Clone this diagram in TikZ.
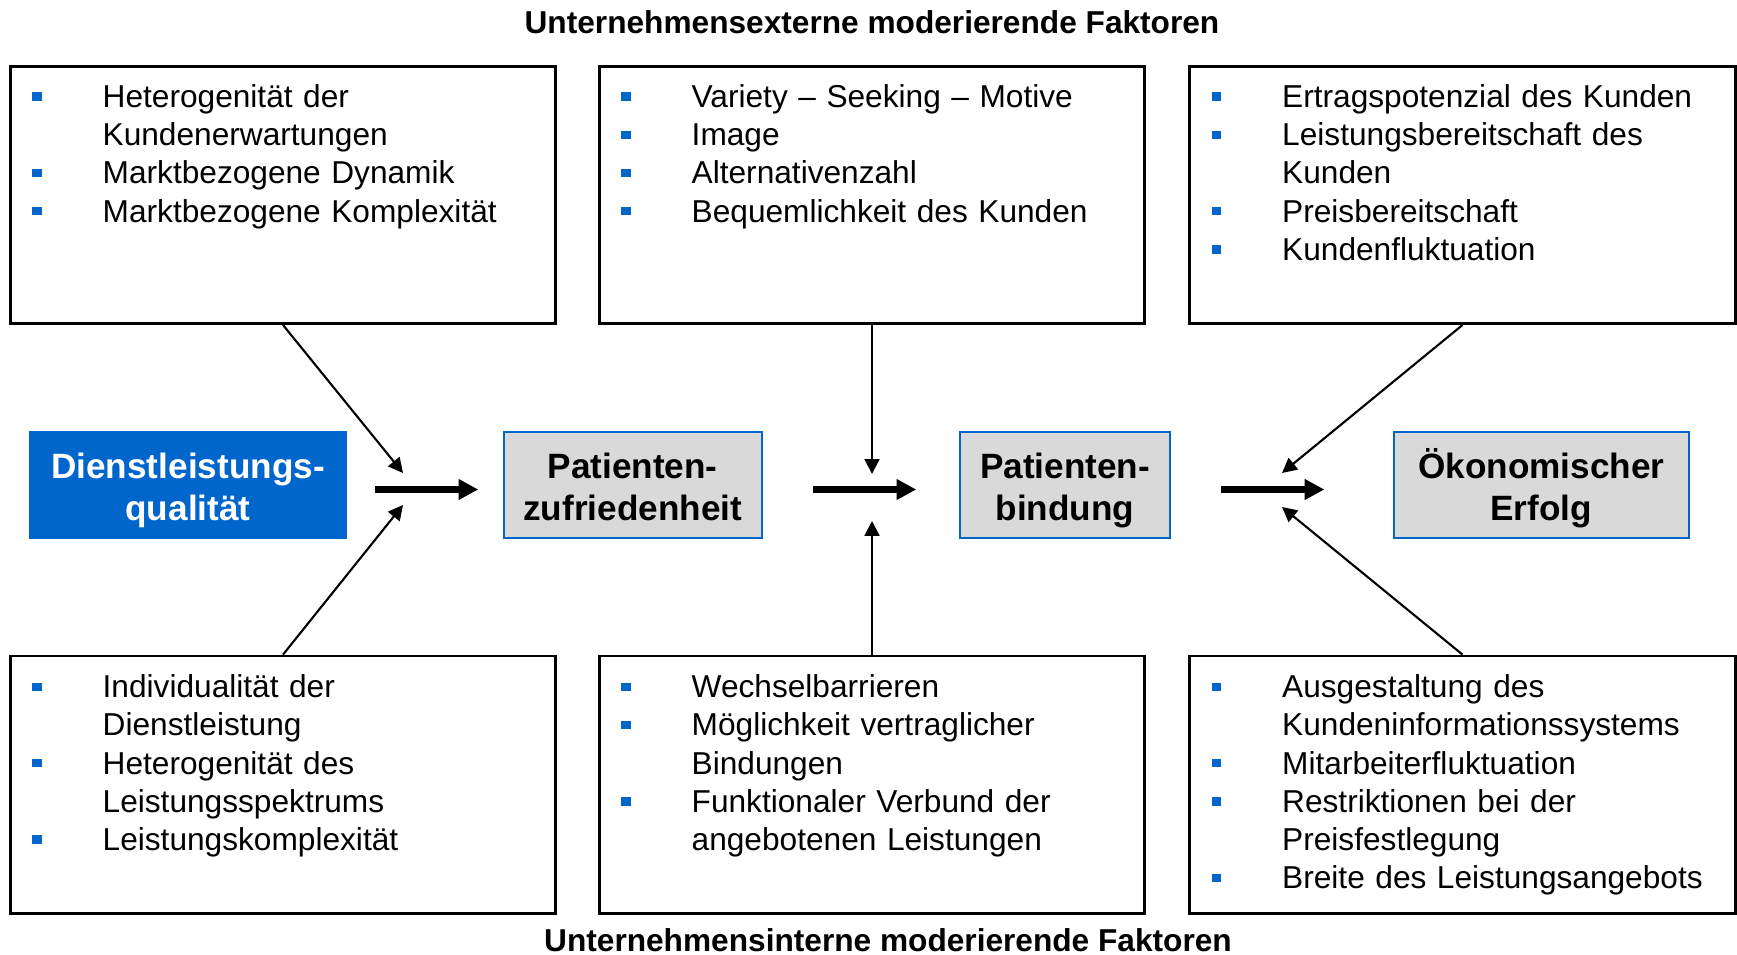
\documentclass[tikz,border=0pt]{standalone}
\usepackage{fontspec}
\setmainfont{Liberation Sans}
\usetikzlibrary{arrows.meta}
\definecolor{kblue}{HTML}{0066CC}
\definecolor{kgrey}{HTML}{D9D9D9}
\newcommand{\bul}{\leavevmode\llap{\textcolor{kblue}{\rule[1.9pt]{2.7pt}{2.4pt}}\hspace{0.61cm}}}
\newcommand{\topstrut}{\rule{0pt}{10.2pt}}
\newcommand{\botstrut}{\rule[-2pt]{0pt}{2pt}}
\tikzset{
  factorbox/.style={draw, line width=0.8pt, minimum width=5.45cm, minimum height=2.57cm, inner sep=0pt},
  factortext/.style={anchor=base west, inner sep=0pt, text width=4.7cm, align=left, font=\fontsize{9}{10.87}\selectfont},
  construct/.style={draw=kblue, fill=kgrey, line width=0.6pt, minimum height=1.054cm, inner sep=0pt, align=center, font=\fontsize{10}{12}\selectfont\bfseries},
  startbox/.style={construct, fill=kblue, text=white},
  headline/.style={anchor=base, inner sep=0pt, font=\fontsize{9}{10.8}\selectfont\bfseries},
  thinarrow/.style={-{Triangle[length=4.2pt,width=4.2pt]}, line width=0.6pt},
  bigarrow/.style={-{Triangle[length=5.6pt,width=5.6pt]}, line width=2.2pt}
}
\begin{document}
\begin{tikzpicture}[x=0.01cm, y=-0.01cm]
\useasboundingbox (0,0) rectangle (1737,955);
% headings
\node[headline] (extern) at (872,33.3) {Unternehmensexterne moderierende Faktoren};
\node[headline] (intern) at (888,951) {Unternehmensinterne moderierende Faktoren};
% factor boxes
\node[factorbox] (ext1) at (283,195) {};
\node[factorbox] (ext2) at (872,195) {};
\node[factorbox] (ext3) at (1462.5,195) {};
\node[factorbox] (int1) at (283,784.6) {};
\node[factorbox] (int2) at (872,784.6) {};
\node[factorbox] (int3) at (1462.5,784.6) {};
\node[factortext] (ext1txt) at ([xshift=0.93cm,yshift=-0.424cm]ext1.north west)
  {\bul Heterogenität der\\Kundenerwartungen\\\bul Marktbezogene Dynamik\\\bul Marktbezogene Komplexität};
\node[factortext] (ext2txt) at ([xshift=0.93cm,yshift=-0.424cm]ext2.north west)
  {\bul Variety – Seeking – Motive\\\bul Image\\\bul Alternativenzahl\\\bul Bequemlichkeit des Kunden};
\node[factortext] (ext3txt) at ([xshift=0.93cm,yshift=-0.424cm]ext3.north west)
  {\bul Ertragspotenzial des Kunden\\\bul Leistungsbereitschaft des\\Kunden\\\bul Preisbereitschaft\\\bul Kundenfluktuation};
\node[factortext] (int1txt) at ([xshift=0.93cm,yshift=-0.43cm]int1.north west)
  {\bul Individualität der\\Dienstleistung\\\bul Heterogenität des\\Leistungsspektrums\\\bul Leistungskomplexität};
\node[factortext] (int2txt) at ([xshift=0.93cm,yshift=-0.43cm]int2.north west)
  {\bul Wechselbarrieren\\\bul Möglichkeit vertraglicher\\Bindungen\\\bul Funktionaler Verbund der\\angebotenen Leistungen};
\node[factortext] (int3txt) at ([xshift=0.93cm,yshift=-0.43cm]int3.north west)
  {\bul Ausgestaltung des\\Kundeninformationssystems\\\bul Mitarbeiterfluktuation\\\bul Restriktionen bei der\\Preisfestlegung\\\bul Breite des Leistungsangebots};
% chain
\node[startbox, minimum width=3.15cm] (dlq) at (188,485) {\topstrut Dienstleistungs-\\qualität\botstrut};
\node[construct, minimum width=2.58cm] (pzuf) at (632.7,485) {\topstrut Patienten-\\zufriedenheit\botstrut};
\node[construct, minimum width=2.093cm] (pbind) at (1065,485) {\topstrut Patienten-\\bindung\botstrut};
\node[construct, minimum width=2.947cm] (oerf) at (1541.3,485) {\topstrut Ökonomischer\\Erfolg\botstrut};
\coordinate (j1) at (403,489.5);
\coordinate (j2) at (872,489.5);
\coordinate (j3) at (1282,489.5);
\coordinate (t1) at (403,473);
\coordinate (b1) at (403,505);
\coordinate (t2) at (872,474);
\coordinate (b2) at (872,521);
\coordinate (t3) at (1282,473);
\coordinate (b3) at (1282,507);
\draw[bigarrow, shorten <=0.286cm, shorten >=0.243cm] (dlq.east |- j1) -- (pzuf.west |- j1);
\draw[bigarrow, shorten <=0.503cm, shorten >=0.43cm] (pzuf.east |- j2) -- (pbind.west |- j2);
\draw[bigarrow, shorten <=0.504cm, shorten >=0.684cm] (pbind.east |- j3) -- (oerf.west |- j3);
% moderating arrows
\draw[thinarrow] (ext1.south) -- (t1);
\draw[thinarrow] (int1.north) -- (b1);
\draw[thinarrow] (ext2.south) -- (t2);
\draw[thinarrow] (int2.north) -- (b2);
\draw[thinarrow] (ext3.south) -- (t3);
\draw[thinarrow] (int3.north) -- (b3);
\end{tikzpicture}
\end{document}
